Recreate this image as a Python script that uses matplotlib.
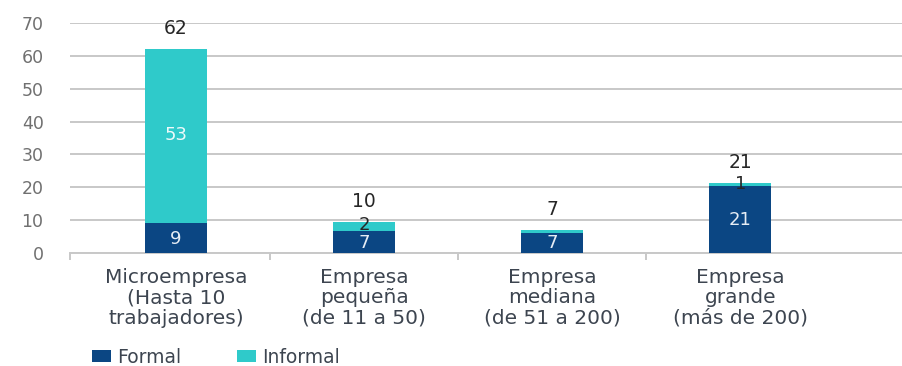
import matplotlib.pyplot as plt
import numpy as np

plt.rcParams['font.family'] = ['DejaVu Sans']

categories = ['Microempresa\n(Hasta 10\ntrabajadores)', 'Empresa\npequeña\n(de 11 a 50)',
              'Empresa\nmediana\n(de 51 a 200)', 'Empresa\ngrande\n(más de 200)']
formal = [9.1, 6.8, 6.2, 20.3]
informal = [52.9, 2.7, 0.8, 0.9]
formal_lbl = ['9', '7', '7', '21']
informal_lbl = ['53', '2', '', '1']
total_lbl = ['62', '10', '7', '21']

c_formal = '#0b4683'
c_informal = '#2fcaca'

fig = plt.figure(figsize=(9.02, 3.66), dpi=100)
ax = fig.add_axes([0.0776, 0.3087, 0.9224, 0.6283])

x = np.arange(len(categories))
w = 0.33
ax.bar(x, formal, w, color=c_formal, label='Formal', zorder=3)
ax.bar(x, informal, w, bottom=formal, color=c_informal, label='Informal', zorder=3)

for i in range(len(x)):
    f = formal[i]
    inf = informal[i]
    ax.text(x[i], f / 2 - 0.2, formal_lbl[i], ha='center', va='center', fontsize=13,
            color='#e6edf5', zorder=4)
    if informal_lbl[i]:
        big = inf > 10
        ax.text(x[i], f + inf / 2 + 0.3, informal_lbl[i], ha='center', va='center', fontsize=13,
                color='#eefafa' if big else '#262626', zorder=4)
    ax.text(x[i], f + inf + 6.3, total_lbl[i], ha='center', va='center', fontsize=13.5,
            color='#262626', zorder=4)

ax.set_xlim(-0.564, 3.86)
ax.set_ylim(0, 70)
ax.set_yticks(range(0, 71, 10))
ax.yaxis.grid(True, color='#c8c8c8', linewidth=1.4, zorder=0)
ax.tick_params(axis='y', length=0, pad=19, labelsize=12.5, labelcolor='#707070')
for s in ['top', 'right', 'left']:
    ax.spines[s].set_visible(False)
ax.spines['bottom'].set_color('#c8c8c8')
ax.spines['bottom'].set_linewidth(1.4)

ax.set_xticks(x)
ax.set_xticklabels(categories, fontsize=14.5, color='#3d4550', linespacing=1.08)
ax.tick_params(axis='x', length=0, pad=11)
ax.set_xticks([-0.564, 0.5, 1.5, 2.5], minor=True)
ax.tick_params(axis='x', which='minor', length=5, color='#c8c8c8', width=1.4)

fig.legend(loc='center left', bbox_to_anchor=(0.092, 0.024), ncol=2, frameon=False,
           fontsize=13.5, handlelength=1.0, handleheight=0.55, handletextpad=0.32,
           columnspacing=3.0, labelcolor='#3d4550', borderpad=0)

fig.savefig('out.png', dpi=100)
